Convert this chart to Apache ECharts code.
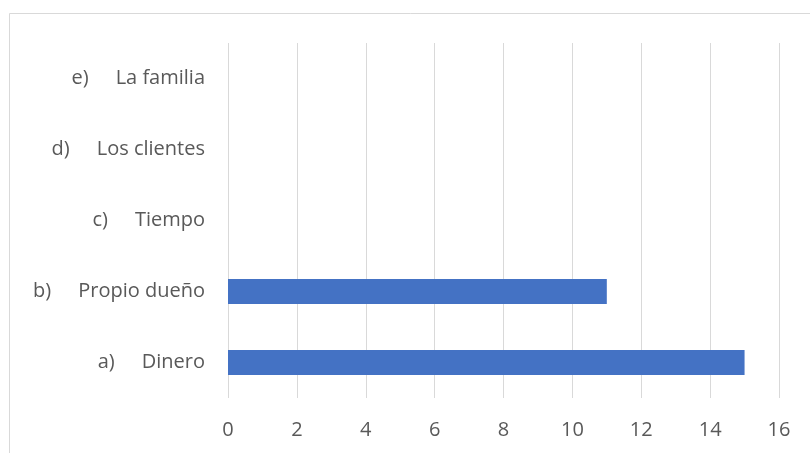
<!DOCTYPE html>
<html>
<head>
<meta charset="utf-8">
<script src="https://cdn.jsdelivr.net/npm/echarts@6/dist/echarts.min.js"></script>
<style>
  html, body { margin: 0; padding: 0; background: #fff; }
  #chart { width: 810px; height: 453px; }
</style>
</head>
<body>
<div id="chart"></div>
<script>
// Category markers and names, listed bottom to top
const markers = ['a)', 'b)', 'c)', 'd)', 'e)'];
const names = ['Dinero', 'Propio dueño', 'Tiempo', 'Los clientes', 'La familia'];
const values = [15, 11, 0, 0, 0];
const xTicks = { min: 0, max: 16, interval: 2 };

const categories = names.map((n, i) => markers[i] + '|' + n);

const textColor = '#595959';
const font = 'Open Sans';
const fontSize = 20;

const chart = echarts.init(document.getElementById('chart'), null, { renderer: 'canvas' });
chart.setOption({
  animation: false,
  backgroundColor: '#ffffff',
  graphic: [{
    type: 'rect',
    shape: { x: 9.5, y: 13.5, width: 820, height: 460 },
    style: { fill: 'none', stroke: '#d9d9d9', lineWidth: 1 },
    silent: true
  }],
  grid: { left: 228, right: 31, top: 43, bottom: 55 },
  xAxis: {
    type: 'value',
    min: xTicks.min, max: xTicks.max, interval: xTicks.interval,
    axisLine: { show: false },
    axisTick: { show: false },
    splitLine: { lineStyle: { color: '#d9d9d9', width: 1 } },
    axisLabel: { color: textColor, fontSize: fontSize, fontFamily: font, margin: 22 }
  },
  yAxis: {
    type: 'category',
    data: categories,
    axisLine: { show: false },
    axisTick: { show: false },
    axisLabel: {
      margin: 23,
      formatter: v => {
        const [m, n] = v.split('|');
        return '{m|' + m + '}{n|' + n + '}';
      },
      rich: {
        m: { color: textColor, fontSize: fontSize, fontFamily: font },
        n: { color: textColor, fontSize: fontSize, fontFamily: font, padding: [0, 0, 0, 27] }
      }
    }
  },
  series: [{
    type: 'bar',
    data: values,
    barWidth: 25,
    itemStyle: { color: '#4472c4' }
  }]
});
</script>
</body>
</html>
